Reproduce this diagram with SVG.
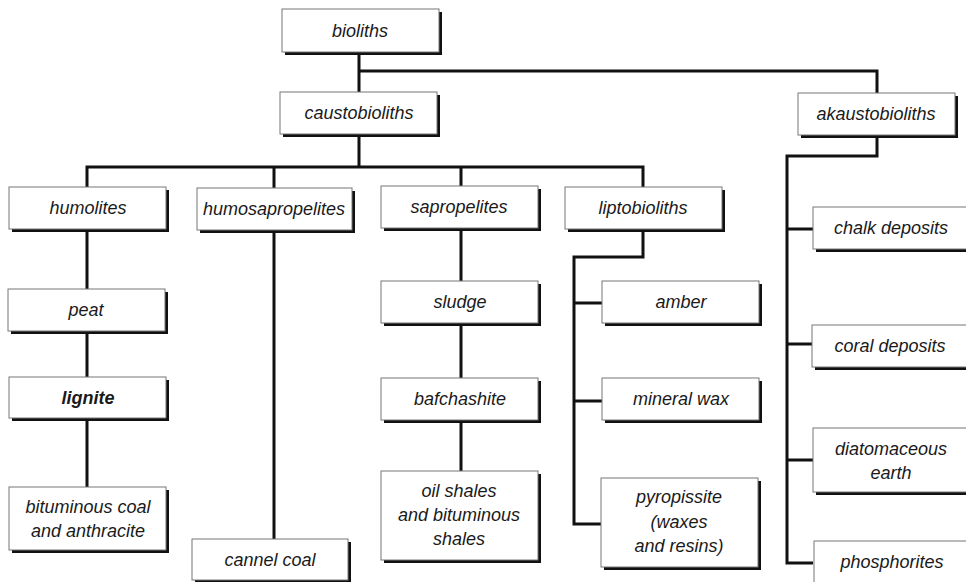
<svg xmlns="http://www.w3.org/2000/svg" width="966" height="582" viewBox="0 0 966 582">
<defs>
<style>
.sh{fill:#111}
.bx{fill:#fff;stroke:#777;stroke-width:1}
.t{font-family:"Liberation Sans",Arial,sans-serif;font-style:italic;font-size:18px;fill:#1a1a1a;text-anchor:middle}
.b{font-weight:bold}
.c{fill:none;stroke:#111;stroke-width:3;stroke-linejoin:miter;stroke-linecap:butt}
</style>
</defs>
<rect width="966" height="582" fill="#fff"/>
<g id="connectors">
<path class="c" d="M359 52V92M359 71H877V93"/>
<path class="c" d="M359 134V167M87 187V167H643V187M274 167V188M461 167V186"/>
<path class="c" d="M877 135V156H787V563H813M787 229H813M787 344H813M787 460H813"/>
<path class="c" d="M643 229V257H574V524H601M574 303H602M574 401H602"/>
<path class="c" d="M87 229V289M87 331V377M87 418V487"/>
<path class="c" d="M274 230V539"/>
<path class="c" d="M461 228V281M461 323V378M461 420V471"/>
</g>
<g id="n-bioliths"><rect class="sh" x="285" y="12" width="157" height="43"/><rect class="bx" x="282" y="9" width="157" height="43"/><text class="t" x="360" y="37">bioliths</text></g>
<g id="n-caustobioliths"><rect class="sh" x="283" y="95" width="157" height="42"/><rect class="bx" x="280" y="92" width="157" height="42"/><text class="t" x="359" y="119">caustobioliths</text></g>
<g id="n-akaustobioliths"><rect class="sh" x="801" y="96" width="157" height="42"/><rect class="bx" x="798" y="93" width="157" height="42"/><text class="t" x="876" y="120">akaustobioliths</text></g>
<g id="n-humolites"><rect class="sh" x="12" y="190" width="157" height="42"/><rect class="bx" x="9" y="187" width="157" height="42"/><text class="t" x="88" y="214">humolites</text></g>
<g id="n-humosapropelites"><rect class="sh" x="200" y="191" width="155" height="42"/><rect class="bx" x="197" y="188" width="155" height="42"/><text class="t" x="274" y="215">humosapropelites</text></g>
<g id="n-sapropelites"><rect class="sh" x="384" y="189" width="157" height="42"/><rect class="bx" x="381" y="186" width="157" height="42"/><text class="t" x="459" y="213">sapropelites</text></g>
<g id="n-liptobioliths"><rect class="sh" x="568" y="190" width="157" height="42"/><rect class="bx" x="565" y="187" width="157" height="42"/><text class="t" x="643" y="214">liptobioliths</text></g>
<g id="n-peat"><rect class="sh" x="11" y="292" width="157" height="42"/><rect class="bx" x="8" y="289" width="157" height="42"/><text class="t" x="86" y="316">peat</text></g>
<g id="n-lignite"><rect class="sh" x="12" y="380" width="157" height="41"/><rect class="bx" x="9" y="377" width="157" height="41"/><text class="t b" x="88" y="404">lignite</text></g>
<g id="n-bituminous"><rect class="sh" x="12" y="490" width="157" height="63"/><rect class="bx" x="9" y="487" width="157" height="63"/><text class="t" x="88" y="513">bituminous coal</text><text class="t" x="88" y="537">and anthracite</text></g>
<g id="n-cannel"><rect class="sh" x="195" y="542" width="156" height="41"/><rect class="bx" x="192" y="539" width="156" height="41"/><text class="t" x="270" y="566">cannel coal</text></g>
<g id="n-sludge"><rect class="sh" x="384" y="284" width="157" height="42"/><rect class="bx" x="381" y="281" width="157" height="42"/><text class="t" x="460" y="308">sludge</text></g>
<g id="n-bafchashite"><rect class="sh" x="384" y="381" width="157" height="42"/><rect class="bx" x="381" y="378" width="157" height="42"/><text class="t" x="460" y="405">bafchashite</text></g>
<g id="n-oilshales"><rect class="sh" x="384" y="474" width="157" height="89"/><rect class="bx" x="381" y="471" width="157" height="89"/><text class="t" x="459" y="497">oil shales</text><text class="t" x="459" y="521">and bituminous</text><text class="t" x="459" y="545">shales</text></g>
<g id="n-amber"><rect class="sh" x="605" y="284" width="157" height="42"/><rect class="bx" x="602" y="281" width="157" height="42"/><text class="t" x="681" y="308">amber</text></g>
<g id="n-mineralwax"><rect class="sh" x="605" y="381" width="157" height="42"/><rect class="bx" x="602" y="378" width="157" height="42"/><text class="t" x="681" y="405">mineral wax</text></g>
<g id="n-pyropissite"><rect class="sh" x="604" y="481" width="157" height="89"/><rect class="bx" x="601" y="478" width="157" height="89"/><text class="t" x="679" y="503">pyropissite</text><text class="t" x="679" y="528">(waxes</text><text class="t" x="679" y="552">and resins)</text></g>
<g id="n-chalk"><rect class="sh" x="816" y="210" width="157" height="42"/><rect class="bx" x="813" y="207" width="157" height="42"/><text class="t" x="891" y="234">chalk deposits</text></g>
<g id="n-coral"><rect class="sh" x="815" y="328" width="157" height="42"/><rect class="bx" x="812" y="325" width="157" height="42"/><text class="t" x="890" y="352">coral deposits</text></g>
<g id="n-diatomaceous"><rect class="sh" x="816" y="431" width="157" height="64"/><rect class="bx" x="813" y="428" width="157" height="64"/><text class="t" x="891" y="455">diatomaceous</text><text class="t" x="891" y="479">earth</text></g>
<g id="n-phosphorites"><rect class="sh" x="817" y="544" width="157" height="42"/><rect class="bx" x="814" y="541" width="157" height="42"/><text class="t" x="892" y="568">phosphorites</text></g>
</svg>
